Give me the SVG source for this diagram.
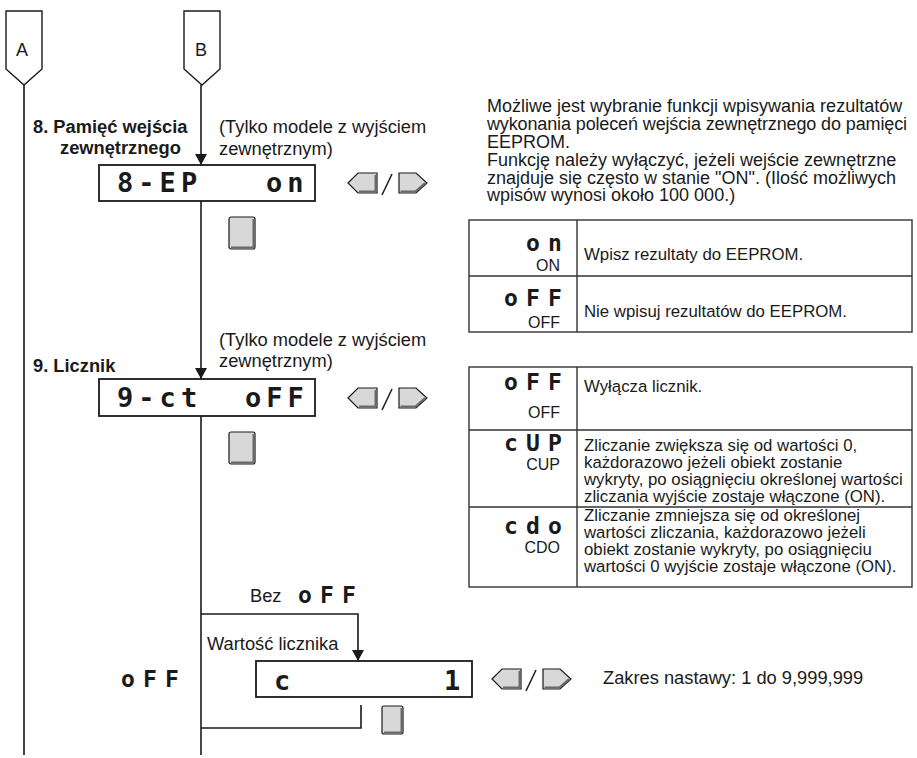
<svg xmlns="http://www.w3.org/2000/svg" width="917" height="758" viewBox="0 0 917 758">
<style>
.ln{stroke:#1a1a1a;stroke-width:1.6;fill:none}
.tag{fill:#fff;stroke:#1a1a1a;stroke-width:1.4}
.t{font-family:"Liberation Sans",Arial,sans-serif;font-size:18.3px;fill:#1a1a1a}
.p{font-size:18px}
.b{font-weight:bold}
.tt{font-size:16.8px}
.lbl{font-size:16px;text-anchor:end}
.seg{font-family:"DejaVu Sans Mono",monospace;font-weight:bold;fill:#1a1a1a}
.lcdt{font-size:27px;letter-spacing:5.05px}
.segs{font-size:23px;letter-spacing:8.15px}
.lcd{fill:#fff;stroke:#1a1a1a;stroke-width:1.8}
.btn{fill:#d8d8d8;stroke:#1a1a1a;stroke-width:1.2}
.sh{fill:none;stroke:#6a6a6a;stroke-width:2}
.tbl{fill:#fff;stroke:#333;stroke-width:1.4}
.tl{stroke:#333;stroke-width:1.4}
</style>
<defs>
<marker id="ah" viewBox="0 0 11 12" refX="11" refY="6" markerWidth="11" markerHeight="12" markerUnits="userSpaceOnUse" orient="auto">
<path d="M0,0 L11,6 L0,12 Z" fill="#1a1a1a"/>
</marker>
<g id="lr">
<polygon class="btn" points="0,10 10,0 29,0 29,20 10,20"/>
<polyline class="sh" points="27.5,2 27.5,18.5 11,18.5"/>
<line x1="44" y1="1" x2="34" y2="22" stroke="#1a1a1a" stroke-width="1.5"/>
<polygon class="btn" points="51,0 68,0 79,10 68,20 51,20"/>
<polyline class="sh" points="52.5,18.5 67.5,18.5 77,10"/>
</g>
<g id="sq">
<rect class="btn" x="0" y="0" width="26" height="32" rx="2"/>
<polyline class="sh" points="24.5,2 24.5,30.5 2,30.5"/>
</g>
</defs>

<g id="connectors">
<line class="ln" x1="24" y1="85" x2="24" y2="755"/>
<line class="ln" x1="201" y1="85" x2="201" y2="165" marker-end="url(#ah)"/>
<line class="ln" x1="201" y1="201" x2="201" y2="379" marker-end="url(#ah)"/>
<line class="ln" x1="201" y1="416" x2="201" y2="755"/>
<polyline class="ln" points="201,614 358,614 358,661" marker-end="url(#ah)"/>
<polyline class="ln" points="361,705 361,728 201,728"/>
</g>

<g id="tagA">
<polygon class="tag" points="6,11 42,11 42,69 24,85 6,69"/>
<text class="t" x="22" y="56" text-anchor="middle" style="font-size:18px">A</text>
</g>
<g id="tagB">
<polygon class="tag" points="184,11 220,11 220,69 202,85 184,69"/>
<text class="t" x="201" y="56" text-anchor="middle" style="font-size:18px">B</text>
</g>

<g id="step8">
<text class="t b" x="33" y="133">8. Pamięć wejścia</text>
<text class="t b" x="60" y="154">zewnętrznego</text>
<text class="t" x="219" y="133">(Tylko modele z wyjściem</text>
<text class="t" x="219" y="155">zewnętrznym)</text>
<rect class="lcd" x="99" y="165" width="216" height="36"/>
<text class="seg lcdt" x="117" y="192">8-EP</text>
<text class="seg lcdt" x="266" y="192">on</text>
<use href="#lr" transform="translate(348,173)"/>
<use href="#sq" transform="translate(229,217)"/>
</g>

<g id="note8">
<text class="t p" x="487" y="112">Możliwe jest wybranie funkcji wpisywania rezultatów</text>
<text class="t p" x="487" y="130" textLength="420">wykonania poleceń wejścia zewnętrznego do pamięci</text>
<text class="t p" x="487" y="148">EEPROM.</text>
<text class="t p" x="487" y="166">Funkcję należy wyłączyć, jeżeli wejście zewnętrzne</text>
<text class="t p" x="487" y="184">znajduje się często w stanie "ON". (Ilość możliwych</text>
<text class="t p" x="487" y="201">wpisów wynosi około 100 000.)</text>
</g>

<g id="table8">
<rect class="tbl" x="469" y="220" width="443" height="112"/>
<line class="tl" x1="469" y1="276" x2="912" y2="276"/>
<line class="tl" x1="577" y1="220" x2="577" y2="332"/>
<text class="seg segs" x="526" y="251">on</text>
<text class="t lbl" x="560" y="271">ON</text>
<text class="t tt" x="584" y="260">Wpisz rezultaty do EEPROM.</text>
<text class="seg segs" x="504" y="306">oFF</text>
<text class="t lbl" x="560" y="328">OFF</text>
<text class="t tt" x="584" y="317">Nie wpisuj rezultatów do EEPROM.</text>
</g>

<g id="step9">
<text class="t" x="219" y="346">(Tylko modele z wyjściem</text>
<text class="t" x="219" y="367">zewnętrznym)</text>
<text class="t b" x="33" y="372">9. Licznik</text>
<rect class="lcd" x="99" y="379" width="216" height="37"/>
<text class="seg lcdt" x="117" y="407">9-ct</text>
<text class="seg lcdt" x="245" y="407">oFF</text>
<use href="#lr" transform="translate(348,388)"/>
<use href="#sq" transform="translate(229,432)"/>
</g>

<g id="table9">
<rect class="tbl" x="469" y="367" width="443" height="220"/>
<line class="tl" x1="469" y1="430" x2="912" y2="430"/>
<line class="tl" x1="469" y1="507" x2="912" y2="507"/>
<line class="tl" x1="577" y1="367" x2="577" y2="587"/>
<text class="seg segs" x="504" y="390">oFF</text>
<text class="t lbl" x="560" y="418">OFF</text>
<text class="t tt" x="584" y="392">Wyłącza licznik.</text>
<text class="seg segs" x="504" y="451">cUP</text>
<text class="t lbl" x="560" y="470">CUP</text>
<text class="t tt" x="584" y="451">Zliczanie zwiększa się od wartości 0,</text>
<text class="t tt" x="584" y="468">każdorazowo jeżeli obiekt zostanie</text>
<text class="t tt" x="584" y="485">wykryty, po osiągnięciu określonej wartości</text>
<text class="t tt" x="584" y="502">zliczania wyjście zostaje włączone (ON).</text>
<text class="seg segs" x="504" y="534">cdo</text>
<text class="t lbl" x="560" y="553">CDO</text>
<text class="t tt" x="584" y="521">Zliczanie zmniejsza się od określonej</text>
<text class="t tt" x="584" y="538">wartości zliczania, każdorazowo jeżeli</text>
<text class="t tt" x="584" y="555">obiekt zostanie wykryty, po osiągnięciu</text>
<text class="t tt" x="584" y="572">wartości 0 wyjście zostaje włączone (ON).</text>
</g>

<g id="counter">
<text class="t" x="250" y="602">Bez</text>
<text class="seg segs" x="298" y="603">oFF</text>
<text class="t" x="207" y="650">Wartość licznika</text>
<text class="seg segs" x="121" y="687">oFF</text>
<rect class="lcd" x="256" y="661" width="216" height="36"/>
<text class="seg lcdt" x="274" y="690">c</text>
<text class="seg lcdt" x="444" y="690">1</text>
<use href="#lr" transform="translate(492,669)"/>
<rect class="btn" x="382" y="706" width="21" height="28" rx="2"/>
<polyline class="sh" points="401.5,708 401.5,732.5 384,732.5"/>
<text class="t" x="603" y="684">Zakres nastawy: 1 do 9,999,999</text>
</g>
</svg>
